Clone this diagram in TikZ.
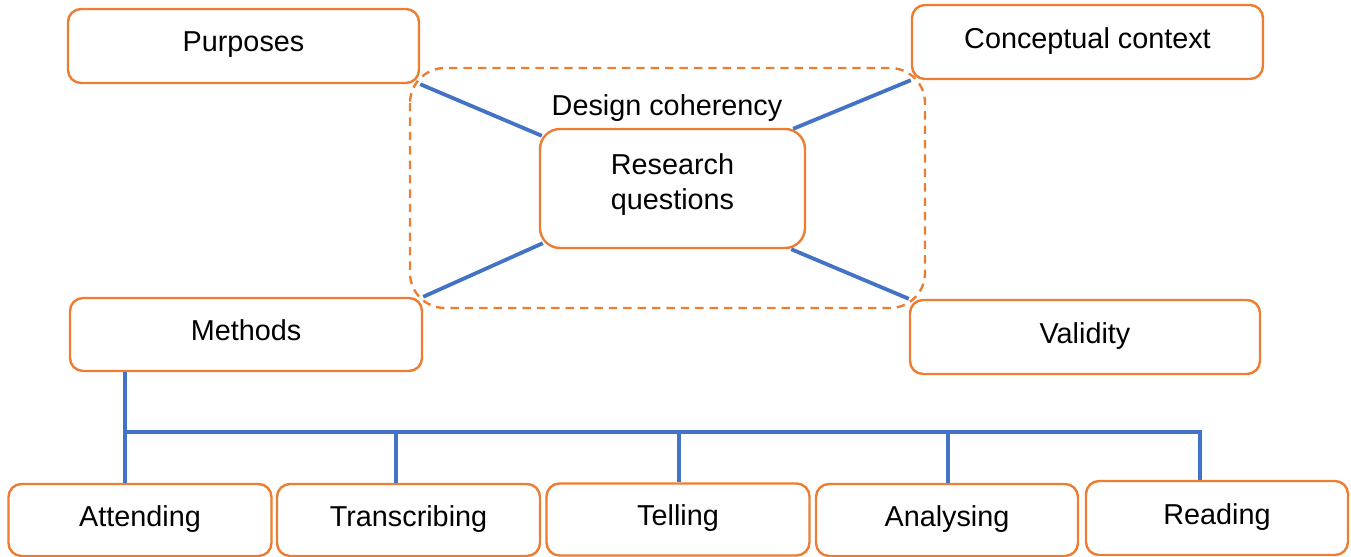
\documentclass[tikz,border=0pt]{standalone}
\usepackage{fontspec}
\setmainfont{Liberation Sans}
\usetikzlibrary{calc}
\definecolor{boxorange}{RGB}{237,125,49}
\definecolor{linkblue}{RGB}{68,114,196}
\begin{document}
\begin{tikzpicture}[x=0.5pt,y=-0.5pt,
  font=\fontsize{14.4}{17.5}\selectfont,
  outline/.style={draw=boxorange, line width=1.2pt, fill=white, inner sep=0pt},
  box/.style={outline, rounded corners=6.5pt, text height=10.4pt, text depth=4.4pt},
  topbox/.style={box, minimum width=175.5pt, minimum height=37pt},
  leafbox/.style={box, minimum width=131.5pt, minimum height=36pt},
  corebox/.style={outline, rounded corners=10pt, minimum width=132.5pt, minimum height=59.5pt},
  link/.style={draw=linkblue, line width=1.9pt},
  frame/.style={draw=boxorange, line width=1.2pt, dash pattern=on 4.2pt off 3pt, rounded corners=17.5pt}]
\useasboundingbox (0,0) rectangle (1351,557);

% dashed frame around the core question
\draw[frame] (410,68) rectangle (925,308);
\node[anchor=base] (coh) at (667,115) {Design coherency};

% central box and its two-line label
\node[corebox] (RQ) at (672.5,188.5) {};
\node[align=center, inner sep=0pt] (RQtext) at (672.5,185) {Research\\questions};

% outer boxes
\node[topbox] (P) at (243.5,46) {Purposes};
\node[topbox] (C) at (1087.5,42) {Conceptual context};
\node[topbox, minimum width=176pt, minimum height=36.5pt] (M) at (246,334.5) {Methods};
\node[topbox, minimum width=175pt] (V) at (1085,337) {Validity};

% method steps
\node[leafbox] (A1) at (140,520) {Attending};
\node[leafbox] (A2) at (408.5,520) {Transcribing};
\node[leafbox] (A3) at (678,519.5) {Telling};
\node[leafbox, minimum width=131pt] (A4) at (947,520) {Analysing};
\node[leafbox, minimum width=131pt, minimum height=37pt] (A5) at (1217,518) {Reading};

% links to the central box
\draw[link] (P.south east) -- ($(RQ.north west)+(3,8)$);
\draw[link] (C.south west) -- ($(RQ.north east)+(-13,1)$);
\draw[link] (M.north east) -- ($(RQ.south west)+(4,-6)$);
\draw[link] (V.north west) -- ($(RQ.south east)+(-15,0)$);

% tree under Methods
\coordinate (j1) at (125,432);
\coordinate (j2) at (396,432);
\coordinate (j3) at (679,432);
\coordinate (j4) at (948,432);
\coordinate (j5) at (1200,432);
\draw[link] (M.south -| j1) -- (A1.north -| j1);
\draw[link] (j1) -- (j5) -- (A5.north -| j5);
\draw[link] (j2) -- (A2.north -| j2);
\draw[link] (j3) -- (A3.north -| j3);
\draw[link] (j4) -- (A4.north -| j4);
\end{tikzpicture}
\end{document}
